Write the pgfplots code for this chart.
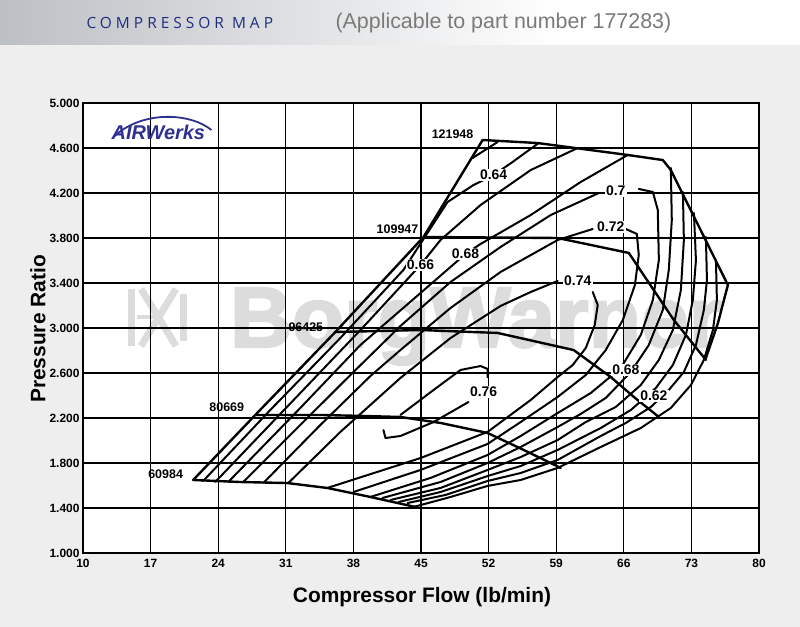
\documentclass[border=0pt]{standalone}
\usepackage{fontspec}
\setmainfont{Liberation Sans}
\newfontfamily\hdrfont{Open Sans}
\newfontfamily\wmfont[BoldFeatures={FakeBold=2.5}]{Liberation Sans}
\usepackage{pgfplots}
\pgfplotsset{compat=1.18}
\definecolor{bggray}{HTML}{EEEEEE}
\definecolor{hdrgray}{HTML}{BCBFC4}
\definecolor{cmblue}{HTML}{1F2D80}
\definecolor{txtgray}{HTML}{7A7A7A}
\definecolor{wmgray}{HTML}{DCDCDC}
\definecolor{awblue}{HTML}{2E3192}
\begin{document}
\begin{tikzpicture}
\useasboundingbox (0,0) rectangle (800bp,627bp);
\fill[bggray] (0,0) rectangle (800bp,627bp);
\shade[left color=hdrgray, right color=white] (0,582bp) rectangle (560bp,627bp);
\fill[white] (560bp,582bp) rectangle (800bp,627bp);
\node[anchor=west, text=cmblue, font=\hdrfont\fontsize{15.5}{15.5}\selectfont\addfontfeature{LetterSpace=26}] at (83bp,604bp) {COMPRESSOR MAP};
\node[anchor=west, text=txtgray, font=\fontsize{21.5}{21.5}\selectfont] at (332bp,604bp) {(Applicable to part number 177283)};
% plot area background and watermark (under the grid)
\fill[white] (83bp,74bp) rectangle (759bp,524bp);
\begin{scope}[wmgray, line width=7bp]
\draw (131bp,281bp) -- (131bp,338bp);
\draw (141bp,338bp) -- (176bp,281bp);
\draw (141bp,281bp) -- (176bp,338bp);
\draw (183bp,286bp) -- (183bp,333bp);
\draw[line width=4bp] (137bp,309.5bp) -- (158bp,309.5bp);
\end{scope}
\node[anchor=base, text=wmgray, text depth=0pt, font=\wmfont\fontsize{86}{86}\selectfont\bfseries] at (476bp,280bp) {BorgWarner};
\begin{axis}[
  at={(83bp,74bp)}, anchor=south west,
  width=676bp, height=450bp, scale only axis,
  xmin=10, xmax=80, ymin=1, ymax=5,
  xtick={10,17,24,31,38,45,52,59,66,73,80},
  ytick={1,1.4,1.8,2.2,2.6,3,3.4,3.8,4.2,4.6,5},
  yticklabel style={/pgf/number format/.cd, fixed, fixed zerofill, precision=3},
  xticklabel style={yshift=-3bp},
  /pgf/number format/assume math mode=true,
  tick label style={font=\fontsize{12}{12}\selectfont\bfseries},
  major tick length=0pt,
  grid=major,
  major grid style={black, line width=1.1bp},
  axis line style={black, line width=1.5bp},
  cycle list={{black}},
  every axis plot/.append style={black, line width=2bp, line join=round, line cap=round, mark=none},
  clip=false,
]
\node[text=awblue, font=\fontsize{20}{20}\selectfont\bfseries\itshape] at (axis cs:17.8,4.735) {AIRWerks};
\draw[awblue, line width=1.8bp] (axis cs:13.2,4.70) .. controls (axis cs:16,4.93) and (axis cs:21,4.92) .. (axis cs:23.3,4.76);

% speed lines
\addplot[line width=2.4bp] coordinates {(21.41,1.649) (26.28,1.631) (31.15,1.622) (35.30,1.578) (39.76,1.498) (44.43,1.409)};
\addplot[line width=2.4bp] coordinates {(27.84,2.227) (34.58,2.227) (39.04,2.218) (42.87,2.209) (47.02,2.156) (51.89,2.067) (55.63,1.916) (59.47,1.756)};
\addplot[line width=2.4bp] coordinates {(36.13,2.964) (44.95,2.982) (52.93,2.956) (60.81,2.804) (64.65,2.564) (67.04,2.387) (69.63,2.209)};
\addplot[line width=2.4bp] coordinates {(45.26,3.809) (59.15,3.800) (66.52,3.667) (71.18,3.071) (74.50,2.716)};
\addplot[line width=2.4bp] coordinates {(51.38,4.671) (57.08,4.644) (66.41,4.538) (70.04,4.493) (70.87,4.404) (76.78,3.382) (76.37,3.249) (75.75,3.044) (74.50,2.733)};
% surge line
\addplot[line width=2.4bp] coordinates {(21.41,1.649) (27.84,2.227) (36.13,2.964) (45.26,3.809) (51.38,4.671)};

% efficiency 0.76 island
\addplot coordinates {(41.11,2.093) (41.32,2.022) (42.87,2.040) (46.30,2.164) (49.92,2.342)};
\addplot coordinates {(42.87,2.227) (46.30,2.449) (49.10,2.627) (51.17,2.662) (51.89,2.636) (51.89,2.564)};
% 0.74
\addplot coordinates {(31.26,1.622) (36.65,2.076) (42.87,2.556) (48.06,2.911) (53.24,3.196) (56.36,3.320) (59.15,3.418)};
\addplot coordinates {(62.78,3.320) (63.30,3.204) (62.99,3.027) (62.06,2.822) (60.71,2.671) (59.15,2.564) (56.36,2.360) (51.89,2.076) (44.95,1.844) (35.30,1.578)};
% 0.72
\addplot coordinates {(28.67,1.622) (34.58,2.138) (39.76,2.573) (42.87,2.804) (48.06,3.178) (53.24,3.498) (59.15,3.782) (62.78,3.880)};
\addplot coordinates {(66.21,3.880) (67.35,3.836) (67.55,3.649) (67.15,3.382) (65.90,3.071) (64.13,2.804) (62.06,2.582) (59.15,2.387) (55.32,2.164) (51.89,1.969) (44.95,1.738) (38.00,1.542)};
% 0.70
\addplot coordinates {(26.59,1.631) (32.50,2.138) (37.69,2.582) (42.87,3.018) (48.06,3.409) (53.24,3.720) (58.43,4.004) (63.41,4.200)};
\addplot coordinates {(67.55,4.236) (69.01,4.209) (69.52,4.049) (69.63,3.604) (69.01,3.249) (67.76,2.938) (65.69,2.644) (62.58,2.422) (59.15,2.244) (55.32,2.040) (51.89,1.871) (45.98,1.667) (39.76,1.498)};
% 0.68
\addplot coordinates {(25.04,1.631) (32.50,2.289) (38.73,2.849) (44.95,3.311) (49.61,3.658) (51.17,3.747) (56.36,4.004) (61.54,4.298) (66.41,4.538)};
\addplot coordinates {(70.87,4.422) (70.97,3.960) (70.66,3.516) (70.04,3.160) (68.59,2.849) (66.73,2.609) (64.13,2.378) (61.54,2.236) (59.15,2.120) (55.32,1.942) (51.89,1.800) (47.02,1.631) (41.01,1.489)};
% 0.66
\addplot coordinates {(23.69,1.631) (32.50,2.422) (38.73,2.982) (44.95,3.560) (47.02,3.782) (51.17,4.093) (56.36,4.404) (61.23,4.600)};
\addplot coordinates {(72.12,4.209) (72.22,3.782) (71.91,3.338) (71.08,2.982) (69.63,2.716) (67.76,2.493) (65.17,2.298) (62.06,2.164) (59.15,2.004) (55.32,1.853) (51.89,1.738) (47.02,1.578) (41.84,1.471)};
% 0.64
\addplot coordinates {(22.44,1.640) (29.39,2.271) (36.65,2.911) (43.18,3.516) (47.75,4.120) (50.44,4.271) (52.52,4.360) (54.49,4.476) (57.18,4.644)};
\addplot coordinates {(73.26,4.022) (73.47,3.604) (73.15,3.249) (72.43,2.938) (71.08,2.671) (69.32,2.467) (66.73,2.271) (63.61,2.111) (59.15,1.916) (55.32,1.773) (51.89,1.684) (47.02,1.542) (42.67,1.453)};
% 0.62
\addplot coordinates {(50.34,4.511) (52.93,4.653)};
\addplot coordinates {(74.50,3.809) (74.61,3.427) (74.29,3.160) (73.47,2.849) (72.22,2.609) (70.66,2.449) (68.80,2.298) (66.21,2.156) (63.61,2.040) (59.15,1.827) (55.32,1.711) (51.89,1.640) (47.54,1.516) (43.60,1.444)};
% 0.60
\addplot coordinates {(75.54,3.604) (75.64,3.249) (75.23,2.982) (74.29,2.716) (72.95,2.493) (70.87,2.289) (67.76,2.111) (63.61,1.942) (59.15,1.756) (55.32,1.649) (51.89,1.596) (48.06,1.498) (44.22,1.409)};

% speed labels
\begin{scope}[every node/.style={font=\fontsize{12.5}{12.5}\selectfont\bfseries, anchor=east, inner sep=0pt}]
\node at (axis cs:50.44,4.724) {121948};
\node at (axis cs:44.74,3.88) {109947};
\node at (axis cs:34.89,3.009) {96425};
\node at (axis cs:26.70,2.298) {80669};
\node at (axis cs:20.37,1.702) {60984};
\end{scope}
% efficiency labels
\begin{scope}[every node/.style={font=\fontsize{14}{14}\selectfont\bfseries, fill=white, inner sep=1.2bp}]
\node at (axis cs:51.48,2.431) {0.76};
\node at (axis cs:61.23,3.418) {0.74};
\node at (axis cs:64.65,3.898) {0.72};
\node at (axis cs:65.17,4.218) {0.7};
\node at (axis cs:52.52,4.360) {0.64};
\node at (axis cs:44.95,3.560) {0.66};
\node at (axis cs:49.61,3.658) {0.68};
\node at (axis cs:66.21,2.627) {0.68};
\node at (axis cs:69.11,2.396) {0.62};
\end{scope}
\end{axis}
\node[font=\fontsize{21}{21}\selectfont\bfseries] at (422bp,30bp) {Compressor Flow (lb/min)};
\node[rotate=90, font=\fontsize{21}{21}\selectfont\bfseries] at (38bp,298bp) {Pressure Ratio};
\end{tikzpicture}
\end{document}
